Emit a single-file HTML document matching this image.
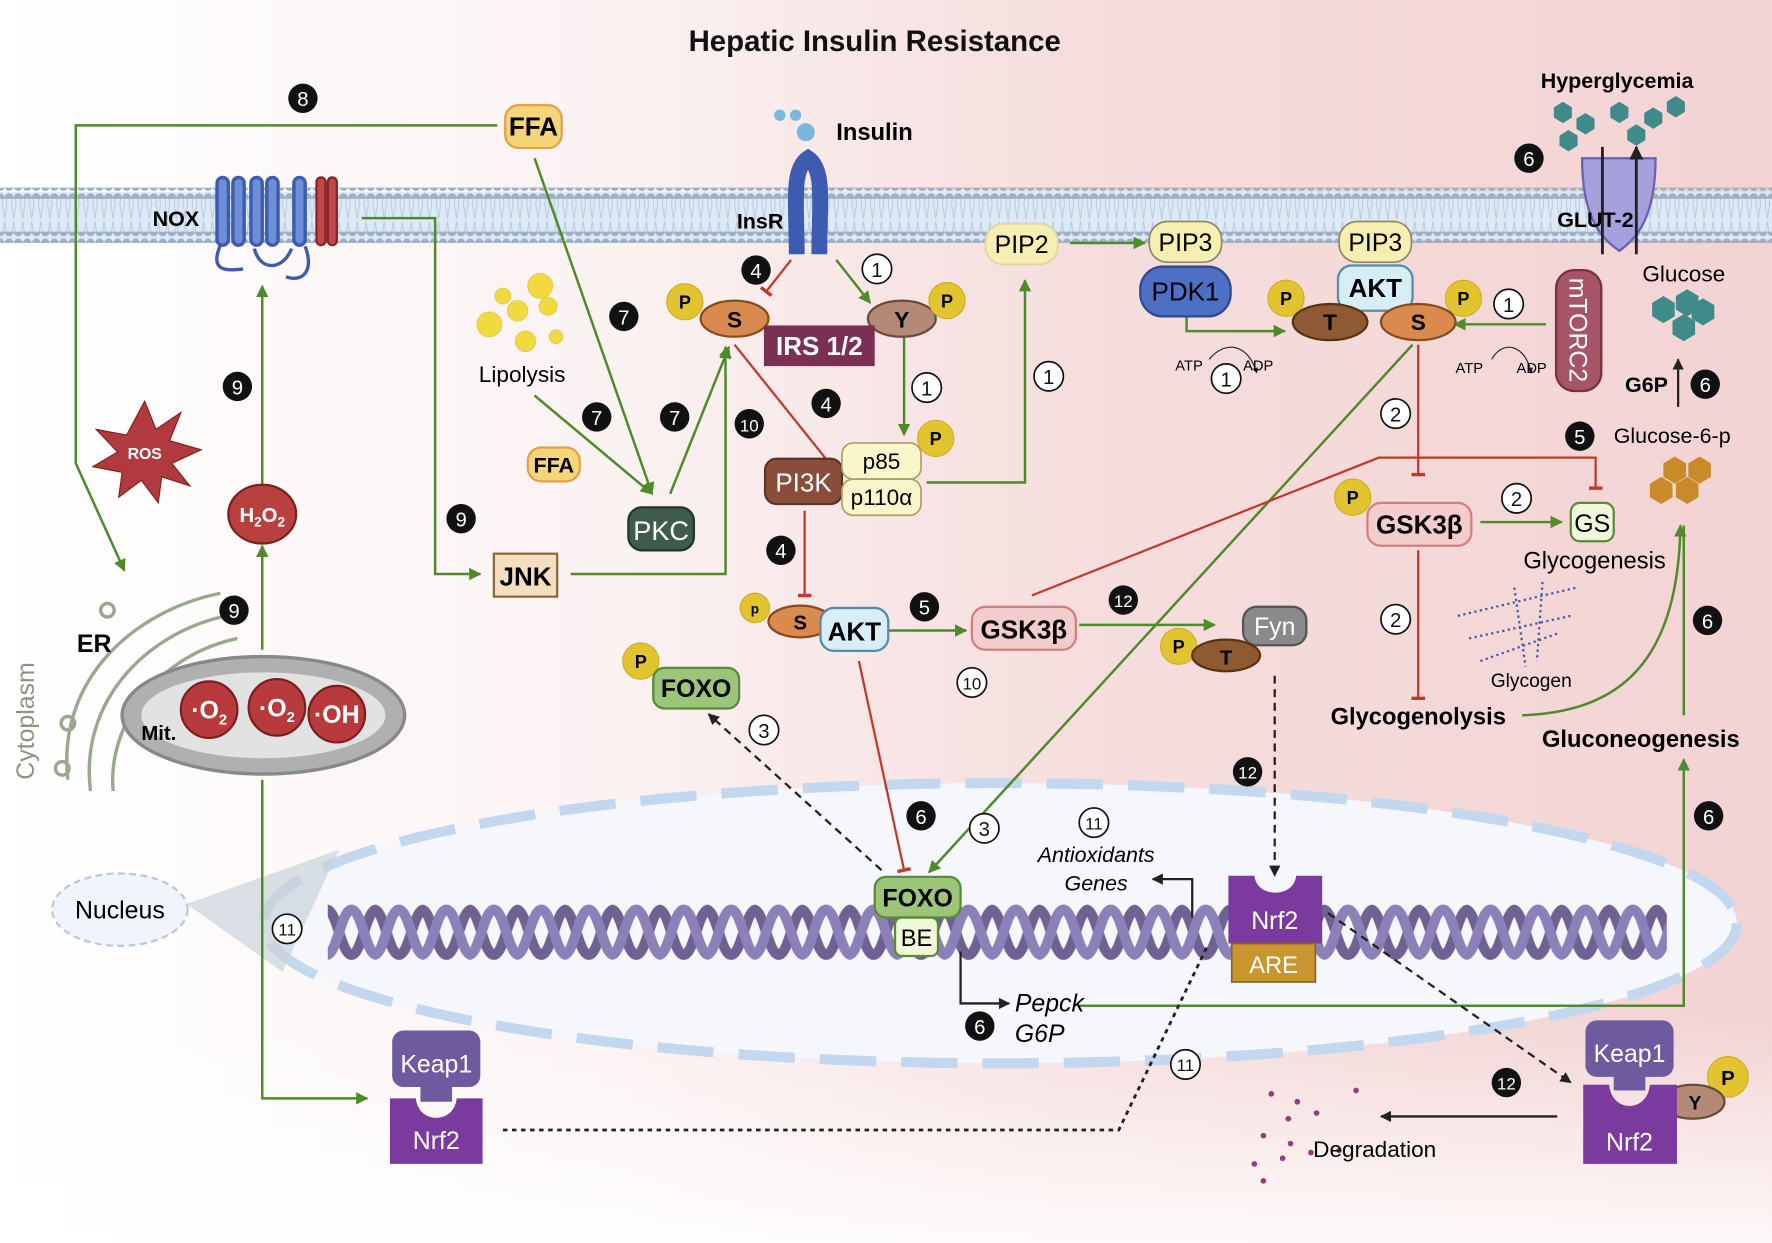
<!DOCTYPE html>
<html><head><meta charset="utf-8"><style>
html,body{margin:0;padding:0;}
svg{display:block;font-family:"Liberation Sans",sans-serif;}
</style></head><body>
<svg width="1772" height="1243" viewBox="0 0 1568 1100" xmlns="http://www.w3.org/2000/svg">
<defs>
<linearGradient id="bg" x1="0" y1="0" x2="1" y2="0">
<stop offset="0" stop-color="#ffffff"/><stop offset="0.35" stop-color="#fbf2f2"/><stop offset="0.6" stop-color="#f6dede"/><stop offset="1" stop-color="#f3d3d3"/>
</linearGradient>
<linearGradient id="fade" x1="0" y1="0" x2="0" y2="1">
<stop offset="0" stop-color="#fff" stop-opacity="0"/><stop offset="1" stop-color="#fff" stop-opacity="0.85"/>
</linearGradient>
<pattern id="heads" x="4" y="0" width="8" height="10" patternUnits="userSpaceOnUse">
<circle cx="4" cy="5" r="4" fill="#9fb0c5"/>
</pattern>
<pattern id="tails" x="0" y="0" width="8" height="30" patternUnits="userSpaceOnUse">
<path d="M2 0 L4 14 M6 0 L4 14 M2 30 L4 16 M6 30 L4 16" stroke="#b5c8dc" stroke-width="0.8" fill="none"/>
</pattern>
<pattern id="dna" x="290" y="795" width="42" height="60" patternUnits="userSpaceOnUse">
<path d="M-1 10 C8 10 12 50 21 50 C30 50 34 10 43 10" fill="none" stroke="#6f6191" stroke-width="9"/>
<path d="M-1 50 C8 50 12 10 21 10 C30 10 34 50 43 50" fill="none" stroke="#8c80b8" stroke-width="9"/>
</pattern>
<marker id="ag" viewBox="0 0 10 10" refX="9" refY="5" markerWidth="5" markerHeight="5" orient="auto"><path d="M0 0L10 5L0 10z" fill="#4f8a2b"/></marker>
<marker id="ak" viewBox="0 0 10 10" refX="9" refY="5" markerWidth="5" markerHeight="5" orient="auto"><path d="M0 0L10 5L0 10z" fill="#222"/></marker>
<marker id="tr" viewBox="0 0 10 10" refX="5" refY="5" markerWidth="6" markerHeight="6" orient="auto"><path d="M5 0V10" stroke="#c0392b" stroke-width="2.5"/></marker>
</defs>
<rect width="1568" height="1100" fill="url(#bg)"/>
<rect y="900" width="1568" height="200" fill="url(#fade)"/>

<!-- membrane -->
<rect x="0" y="170" width="1568" height="42" fill="#dde9f5"/>
<rect x="0" y="176" width="1568" height="30" fill="url(#tails)"/>
<rect x="0" y="166" width="1568" height="10" fill="url(#heads)"/>
<rect x="0" y="205" width="1568" height="10" fill="url(#heads)"/>

<text x="774" y="45" font-size="26" font-weight="bold" text-anchor="middle" fill="#111">Hepatic Insulin Resistance</text>

<!-- nucleus -->
<ellipse cx="885" cy="817" rx="652" ry="124" fill="#f5f7fd" stroke="#c3d8ef" stroke-width="9" stroke-dasharray="50 22"/>
<path d="M165 800 L300 752 L250 860 Z" fill="#c9d3da" opacity="0.7"/>
<ellipse cx="106" cy="805" rx="60" ry="32" fill="#f2f4fc" stroke="#b9c8e0" stroke-width="2" stroke-dasharray="6 4"/>
<text x="106" y="813" font-size="22" text-anchor="middle">Nucleus</text>
<rect x="290" y="795" width="1185" height="60" fill="url(#dna)"/>

<!-- connectors green -->
<g fill="none" stroke="#4f8a2b" stroke-width="2.2">
<path d="M440 111 H67 V410 L110 505" marker-end="url(#ag)"/>
<path d="M473 140 L577 437" marker-end="url(#ag)"/>
<path d="M473 350 L577 437" marker-end="url(#ag)"/>
<path d="M593 437 L645 307" marker-end="url(#ag)"/>
<path d="M320 193 H385 V508 H425" marker-end="url(#ag)"/>
<path d="M505 508 H642 V307" marker-end="url(#ag)"/>
<path d="M232 440 V253" marker-end="url(#ag)"/>
<path d="M232 575 V483" marker-end="url(#ag)"/>
<path d="M232 690 V972 H325" marker-end="url(#ag)"/>
<path d="M740 230 L770 268" marker-end="url(#ag)"/>
<path d="M800 296 V385" marker-end="url(#ag)"/>
<path d="M820 427 H907 V248" marker-end="url(#ag)"/>
<path d="M947 215 H1013" marker-end="url(#ag)"/>
<path d="M1050 280 V293 H1137" marker-end="url(#ag)"/>
<path d="M1368 287 H1287" marker-end="url(#ag)"/>
<path d="M1250 305 L822 772" marker-end="url(#ag)"/>
<path d="M786 558 H855" marker-end="url(#ag)"/>
<path d="M955 553 H1075" marker-end="url(#ag)"/>
<path d="M1310 462 H1382" marker-end="url(#ag)"/>
<path d="M1347 633 C1420 630 1485 600 1487 465" marker-end="url(#ag)"/>
<path d="M955 890 H1490 V672" marker-end="url(#ag)"/>
<path d="M1490 633 V465"/>
</g>
<!-- red inhibition -->
<g fill="none" stroke="#c0392b" stroke-width="2">
<path d="M700 230 L678 258" marker-end="url(#tr)"/>
<path d="M650 305 L738 415" marker-end="url(#tr)"/>
<path d="M712 452 V527" marker-end="url(#tr)"/>
<path d="M760 585 L800 770" marker-end="url(#tr)"/>
<path d="M1255 305 V420" marker-end="url(#tr)"/>
<path d="M1255 487 V618" marker-end="url(#tr)"/>
<path d="M913 527 L1220 405 H1412 V432" marker-end="url(#tr)"/>
</g>
<!-- black / dashed -->
<g fill="none" stroke="#222" stroke-width="2">
<path d="M780 770 L627 632" stroke-dasharray="7 5" marker-end="url(#ak)"/>
<path d="M1128 598 V775" stroke-dasharray="7 5" marker-end="url(#ak)"/>
<path d="M1175 808 L1390 958" stroke-dasharray="7 5" marker-end="url(#ak)"/>
<path d="M445 1000 H990 L1068 838" stroke-dasharray="4 4" stroke-width="2.5"/>
<path d="M850 842 V888 H893" marker-end="url(#ak)"/>
<path d="M1055 812 V778 H1020" marker-end="url(#ak)"/>
<path d="M1378 988 H1222" marker-end="url(#ak)"/>
<path d="M1485 360 V318" marker-end="url(#ak)"/>
<path d="M1070 318 C1085 300 1105 305 1112 330" stroke-width="1" marker-end="url(#ak)"/>
<path d="M1320 318 C1330 300 1350 305 1355 330" stroke-width="1" marker-end="url(#ak)"/>
</g>

<!-- NOX -->
<g fill="none" stroke="#3d5bb0" stroke-width="3">
<rect x="192" y="157" width="10" height="60" rx="5" fill="#6f8ed8"/><rect x="206" y="157" width="10" height="60" rx="5" fill="#6f8ed8"/>
<rect x="222" y="157" width="10" height="60" rx="5" fill="#6f8ed8"/><rect x="236" y="157" width="10" height="60" rx="5" fill="#6f8ed8"/>
<rect x="260" y="157" width="10" height="60" rx="5" fill="#6f8ed8"/>
<path d="M195 217 C185 240 200 240 215 238 M225 220 C230 240 250 240 258 220 M270 218 C278 240 268 250 253 245"/>
</g>
<g fill="#c0474a" stroke="#8b2323" stroke-width="2"><rect x="280" y="157" width="8" height="60" rx="4"/><rect x="290" y="157" width="8" height="60" rx="4"/></g>
<text x="135" y="200" font-size="19" font-weight="bold">NOX</text>

<!-- ROS, H2O2 -->
<polygon points="128,355 138,380 160,365 150,390 178,398 152,410 168,430 143,422 140,445 125,425 105,440 108,418 82,413 104,400 85,380 112,385" fill="#b03a3e" stroke="#7a2020"/>
<text x="128" y="406" font-size="14" font-weight="bold" fill="#fff" text-anchor="middle">ROS</text>
<ellipse cx="232" cy="455" rx="30" ry="26" fill="#b8403f" stroke="#7a2020" stroke-width="2"/>
<text x="232" y="462" font-size="18" font-weight="bold" fill="#fff" text-anchor="middle">H<tspan font-size="12" dy="4">2</tspan><tspan dy="-4">O</tspan><tspan font-size="12" dy="4">2</tspan></text>

<!-- ER & mitochondria -->
<g fill="none" stroke="#9aa88e" stroke-width="3">
<path d="M60 690 C50 600 120 540 195 525"/><path d="M80 700 C70 620 130 560 200 545"/><path d="M100 700 C95 640 140 580 210 565"/>
<circle cx="95" cy="540" r="6"/><circle cx="60" cy="640" r="6"/><circle cx="55" cy="680" r="6"/>
</g>
<text x="68" y="577" font-size="22" font-weight="bold">ER</text>
<text x="30" y="690" font-size="22" fill="#8a9580" transform="rotate(-90 30 690)">Cytoplasm</text>
<ellipse cx="233" cy="633" rx="125" ry="52" fill="#b0b0b0" stroke="#888" stroke-width="3"/>
<ellipse cx="233" cy="633" rx="108" ry="38" fill="#e2e2e2"/>
<text x="125" y="655" font-size="18" font-weight="bold">Mit.</text>
<g fill="#b83a3c" stroke="#7a2020" stroke-width="2"><circle cx="185" cy="628" r="25"/><circle cx="245" cy="626" r="25"/><circle cx="298" cy="632" r="25"/></g>
<g fill="#fff" font-size="22" font-weight="bold" text-anchor="middle"><text x="185" y="636">·O<tspan font-size="13" dy="5">2</tspan></text><text x="245" y="634">·O<tspan font-size="13" dy="5">2</tspan></text><text x="298" y="640">·OH</text></g>

<!-- FFA, lipolysis, PKC, JNK -->
<rect x="447" y="93" width="50" height="38" rx="12" fill="#f4d57a" stroke="#e2a24b" stroke-width="2"/>
<text x="472" y="120" font-size="23" font-weight="bold" text-anchor="middle">FFA</text>
<rect x="467" y="396" width="46" height="30" rx="12" fill="#f4d57a" stroke="#e2a24b" stroke-width="2"/>
<text x="490" y="418" font-size="19" font-weight="bold" text-anchor="middle">FFA</text>
<g fill="#f0da3e" stroke="#e6cd5a"><circle cx="433" cy="287" r="11"/><circle cx="458" cy="275" r="9"/><circle cx="478" cy="253" r="11"/><circle cx="485" cy="271" r="8"/><circle cx="465" cy="302" r="9"/><circle cx="492" cy="298" r="6"/><circle cx="445" cy="262" r="7"/></g>
<text x="462" y="338" font-size="20" text-anchor="middle">Lipolysis</text>
<rect x="556" y="449" width="58" height="38" rx="12" fill="#3e5c4a" stroke="#24362c" stroke-width="2"/>
<text x="585" y="478" font-size="24" fill="#fff" text-anchor="middle">PKC</text>
<rect x="437" y="490" width="56" height="38" fill="#f3dfc0" stroke="#8a6a3a" stroke-width="2"/>
<text x="465" y="518" font-size="23" font-weight="bold" text-anchor="middle">JNK</text>

<!-- Insulin receptor -->
<g fill="#7ab6de"><circle cx="690" cy="102" r="5"/><circle cx="704" cy="102" r="5"/><circle cx="713" cy="117" r="8"/></g>
<text x="740" y="124" font-size="21" font-weight="bold">Insulin</text>
<path d="M705 225 C705 180 700 150 715 140 C730 150 725 180 725 225" fill="none" stroke="#3d5bb0" stroke-width="14"/>
<text x="652" y="202" font-size="19" font-weight="bold">InsR</text>

<!-- IRS -->
<ellipse cx="650" cy="282" rx="30" ry="16" fill="#d98a4f" stroke="#8a4a1e" stroke-width="2"/><text x="650" y="290" font-size="20" font-weight="bold" text-anchor="middle">S</text>
<ellipse cx="798" cy="282" rx="30" ry="16" fill="#b48a76" stroke="#6a4a3a" stroke-width="2"/><text x="798" y="290" font-size="20" font-weight="bold" text-anchor="middle">Y</text>
<rect x="676" y="288" width="98" height="36" fill="#7a2f53"/>
<text x="725" y="314" font-size="23" font-weight="bold" fill="#fff" text-anchor="middle">IRS 1/2</text>

<!-- P circles -->
<g fill="#e2c431" stroke="#cfae1f"><circle cx="606" cy="267" r="16"/><circle cx="838" cy="266" r="16"/><circle cx="828" cy="388" r="16"/><circle cx="1138" cy="264" r="16"/><circle cx="1295" cy="264" r="16"/><circle cx="1197" cy="440" r="16"/><circle cx="567" cy="585" r="16"/><circle cx="1043" cy="572" r="16"/><circle cx="1529" cy="953" r="18"/><circle cx="668" cy="538" r="13"/></g>
<g font-size="16" font-weight="bold" text-anchor="middle"><text x="606" y="273">P</text><text x="838" y="272">P</text><text x="828" y="394">P</text><text x="1138" y="270">P</text><text x="1295" y="270">P</text><text x="1197" y="446">P</text><text x="567" y="591">P</text><text x="1043" y="578">P</text><text x="1529" y="960" font-size="18">P</text><text x="668" y="543" font-size="12">p</text></g>

<!-- PI3K -->
<rect x="677" y="406" width="68" height="40" rx="10" fill="#8a4d3c" stroke="#5e3226" stroke-width="2"/>
<text x="711" y="435" font-size="23" fill="#fff" text-anchor="middle">PI3K</text>
<rect x="745" y="392" width="70" height="32" rx="10" fill="#fbf5cc" stroke="#aaa16a" stroke-width="1.5"/><text x="780" y="415" font-size="20" text-anchor="middle">p85</text>
<rect x="745" y="424" width="70" height="32" rx="10" fill="#fbf5cc" stroke="#aaa16a" stroke-width="1.5"/><text x="780" y="447" font-size="20" text-anchor="middle">p110α</text>

<!-- AKT lower -->
<ellipse cx="708" cy="550" rx="28" ry="14" fill="#d98a4f" stroke="#8a4a1e" stroke-width="2"/><text x="708" y="557" font-size="18" font-weight="bold" text-anchor="middle">S</text>
<rect x="726" y="538" width="60" height="38" rx="12" fill="#d8eef7" stroke="#5a8aa6" stroke-width="2"/>
<text x="756" y="567" font-size="23" font-weight="bold" text-anchor="middle">AKT</text>
<rect x="860" y="537" width="92" height="38" rx="12" fill="#f3cccc" stroke="#d08080" stroke-width="2"/>
<text x="906" y="565" font-size="23" font-weight="bold" text-anchor="middle">GSK3β</text>
<rect x="1100" y="537" width="56" height="34" rx="12" fill="#8a8a8a" stroke="#555" stroke-width="2"/>
<text x="1128" y="562" font-size="22" fill="#fff" text-anchor="middle">Fyn</text>
<ellipse cx="1085" cy="580" rx="30" ry="14" fill="#8e5a34" stroke="#5a3410" stroke-width="2"/><text x="1085" y="588" font-size="18" font-weight="bold" text-anchor="middle">T</text>
<rect x="578" y="591" width="76" height="36" rx="10" fill="#9cc57a" stroke="#5a8a3a" stroke-width="2"/>
<text x="616" y="617" font-size="22" font-weight="bold" text-anchor="middle">FOXO</text>

<!-- PIP & AKT top -->
<rect x="872" y="198" width="64" height="36" rx="16" fill="#f6efb2" stroke="#dcd8a0" stroke-width="1.5"/><text x="904" y="224" font-size="22" text-anchor="middle">PIP2</text>
<rect x="1017" y="196" width="64" height="36" rx="16" fill="#f6efb2" stroke="#8a8a6a" stroke-width="1.5"/><text x="1049" y="222" font-size="22" text-anchor="middle">PIP3</text>
<rect x="1009" y="236" width="80" height="44" rx="20" fill="#4d6fc4" stroke="#2d4a8a" stroke-width="2"/><text x="1049" y="266" font-size="23" text-anchor="middle">PDK1</text>
<rect x="1185" y="196" width="64" height="36" rx="16" fill="#f6efb2" stroke="#8a8a6a" stroke-width="1.5"/><text x="1217" y="222" font-size="22" text-anchor="middle">PIP3</text>
<rect x="1184" y="235" width="66" height="40" rx="12" fill="#d8eef7" stroke="#5a8aa6" stroke-width="2"/><text x="1217" y="263" font-size="23" font-weight="bold" text-anchor="middle">AKT</text>
<ellipse cx="1177" cy="285" rx="33" ry="16" fill="#8e5a34" stroke="#5a3410" stroke-width="2"/><text x="1177" y="292" font-size="20" font-weight="bold" text-anchor="middle">T</text>
<ellipse cx="1255" cy="285" rx="33" ry="16" fill="#d98a4f" stroke="#8a4a1e" stroke-width="2"/><text x="1255" y="292" font-size="20" font-weight="bold" text-anchor="middle">S</text>
<g font-size="13"><text x="1040" y="328">ATP</text><text x="1100" y="328">ADP</text><text x="1288" y="330">ATP</text><text x="1342" y="330">ADP</text></g>
<rect x="1377" y="239" width="40" height="107" rx="16" fill="#a65468" stroke="#7a3040" stroke-width="2"/>
<text x="1397" y="292" font-size="22" fill="#fff" text-anchor="middle" transform="rotate(90 1397 292)" dy="8">mTORC2</text>

<!-- GSK3b right, GS -->
<rect x="1210" y="445" width="92" height="38" rx="12" fill="#f3cccc" stroke="#d08080" stroke-width="2"/>
<text x="1256" y="472" font-size="23" font-weight="bold" text-anchor="middle">GSK3β</text>
<rect x="1390" y="445" width="38" height="34" rx="8" fill="#eff8d8" stroke="#5a8a3a" stroke-width="2"/>
<text x="1409" y="471" font-size="22" text-anchor="middle">GS</text>
<text x="1411" y="503" font-size="21" text-anchor="middle">Glycogenesis</text>
<g stroke="#3d5bb0" stroke-width="2" stroke-dasharray="2 3" fill="none"><path d="M1290 545 L1395 520 M1300 565 L1390 545 M1310 585 L1380 560 M1340 520 L1350 590 M1365 515 L1360 585"/></g>
<text x="1355" y="608" font-size="17" text-anchor="middle">Glycogen</text>
<text x="1255" y="641" font-size="21" font-weight="bold" text-anchor="middle">Glycogenolysis</text>
<text x="1452" y="661" font-size="21" font-weight="bold" text-anchor="middle">Gluconeogenesis</text>

<!-- GLUT2 & glucose -->
<path d="M1400 140 H1465 C1465 190 1450 210 1433 222 C1415 210 1400 190 1400 140 Z" fill="#a6a0dc" stroke="#6a62b0" stroke-width="2"/>
<path d="M1418 225 V130 M1448 225 V130" stroke="#222" stroke-width="2.5" marker-end="url(#ak)" fill="none"/>
<text x="1431" y="78" font-size="19" font-weight="bold" text-anchor="middle">Hyperglycemia</text>
<g fill="#3f8a8a"><polygon points="1375,95 1383,90 1391,95 1391,104 1383,109 1375,104"/><polygon points="1395,105 1403,100 1411,105 1411,114 1403,119 1395,114"/><polygon points="1425,95 1433,90 1441,95 1441,104 1433,109 1425,104"/><polygon points="1455,100 1463,95 1471,100 1471,109 1463,114 1455,109"/><polygon points="1475,90 1483,85 1491,90 1491,99 1483,104 1475,99"/><polygon points="1440,115 1448,110 1456,115 1456,124 1448,129 1440,124"/><polygon points="1380,120 1388,115 1396,120 1396,129 1388,134 1380,129"/>
<polygon points="1462,268 1472,262 1482,268 1482,280 1472,286 1462,280"/><polygon points="1483,262 1493,256 1503,262 1503,274 1493,280 1483,274"/><polygon points="1480,284 1490,278 1500,284 1500,296 1490,302 1480,296"/><polygon points="1497,270 1507,264 1517,270 1517,282 1507,288 1497,282"/></g>
<text x="1378" y="201" font-size="19" font-weight="bold">GLUT-2</text>
<text x="1490" y="249" font-size="20" text-anchor="middle">Glucose</text>
<text x="1438" y="347" font-size="19" font-weight="bold">G6P</text>
<text x="1428" y="392" font-size="19">Glucose-6-p</text>
<g fill="#c98a2a"><polygon points="1472,410 1482,404 1492,410 1492,422 1482,428 1472,422"/><polygon points="1494,410 1504,404 1514,410 1514,422 1504,428 1494,422"/><polygon points="1460,428 1470,422 1480,428 1480,440 1470,446 1460,440"/><polygon points="1483,428 1493,422 1503,428 1503,440 1493,446 1483,440"/></g>

<!-- FOXO/BE nucleus, Nrf2 -->
<rect x="774" y="776" width="76" height="36" rx="10" fill="#9cc57a" stroke="#5a8a3a" stroke-width="2"/>
<text x="812" y="802" font-size="22" font-weight="bold" text-anchor="middle">FOXO</text>
<rect x="792" y="812" width="38" height="34" rx="6" fill="#eff8d8" stroke="#5a8a3a" stroke-width="2"/>
<text x="811" y="837" font-size="21" text-anchor="middle">BE</text>
<path d="M1087 775 H1110 C1112 795 1145 795 1147 775 H1170 V835 H1087 Z" fill="#7a3a9e"/>
<text x="1128" y="822" font-size="22" fill="#fff" text-anchor="middle">Nrf2</text>
<rect x="1090" y="835" width="74" height="34" fill="#c8962e" stroke="#8a6420" stroke-width="1.5"/>
<text x="1127" y="861" font-size="21" fill="#fff" text-anchor="middle">ARE</text>
<text x="970" y="763" font-size="19" font-style="italic" text-anchor="middle">Antioxidants</text>
<text x="970" y="788" font-size="19" font-style="italic" text-anchor="middle">Genes</text>
<text x="898" y="895" font-size="22" font-style="italic">Pepck</text>
<text x="898" y="922" font-size="22" font-style="italic">G6P</text>

<!-- Keap1/Nrf2 bottom -->
<rect x="347" y="912" width="78" height="50" rx="10" fill="#6e5a9e"/><rect x="372" y="955" width="28" height="20" fill="#6e5a9e"/>
<text x="386" y="949" font-size="22" fill="#fff" text-anchor="middle">Keap1</text>
<path d="M345 972 H368 C370 995 402 995 404 972 H427 V1030 H345 Z" fill="#7a3a9e"/>
<text x="386" y="1017" font-size="22" fill="#fff" text-anchor="middle">Nrf2</text>
<rect x="1403" y="903" width="78" height="50" rx="10" fill="#6e5a9e"/><rect x="1428" y="945" width="28" height="20" fill="#6e5a9e"/>
<text x="1442" y="940" font-size="22" fill="#fff" text-anchor="middle">Keap1</text>
<ellipse cx="1498" cy="975" rx="28" ry="15" fill="#b48a76" stroke="#6a4a3a" stroke-width="2"/><text x="1500" y="982" font-size="17" font-weight="bold" text-anchor="middle">Y</text>
<path d="M1401 960 H1424 C1426 985 1458 985 1460 960 H1484 V1030 H1401 Z" fill="#7a3a9e"/>
<text x="1442" y="1018" font-size="22" fill="#fff" text-anchor="middle">Nrf2</text>
<g fill="#9a3a7a"><circle cx="1125" cy="968" r="2.5"/><circle cx="1148" cy="975" r="2.5"/><circle cx="1140" cy="990" r="2.5"/><circle cx="1165" cy="985" r="2.5"/><circle cx="1118" cy="1005" r="2.5"/><circle cx="1142" cy="1012" r="2.5"/><circle cx="1160" cy="1020" r="2.5"/><circle cx="1185" cy="1018" r="2.5"/><circle cx="1200" cy="965" r="2.5"/><circle cx="1110" cy="1030" r="2.5"/><circle cx="1135" cy="1025" r="2.5"/><circle cx="1118" cy="1045" r="2.5"/></g>
<text x="1162" y="1024" font-size="20">Degradation</text>

<!-- numbered circles: black -->
<g fill="#111"><circle cx="268" cy="87" r="13"/><circle cx="552" cy="280" r="13"/><circle cx="528" cy="369" r="13"/><circle cx="597" cy="369" r="13"/><circle cx="210" cy="342" r="13"/><circle cx="408" cy="459" r="13"/><circle cx="207" cy="540" r="13"/><circle cx="669" cy="239" r="13"/><circle cx="731" cy="357" r="13"/><circle cx="663" cy="375" r="13"/><circle cx="691" cy="487" r="13"/><circle cx="818" cy="537" r="13"/><circle cx="994" cy="531" r="13"/><circle cx="1104" cy="683" r="13"/><circle cx="815" cy="722" r="13"/><circle cx="867" cy="908" r="13"/><circle cx="1333" cy="958" r="13"/><circle cx="1353" cy="140" r="13"/><circle cx="1509" cy="340" r="13"/><circle cx="1398" cy="386" r="13"/><circle cx="1511" cy="549" r="13"/><circle cx="1512" cy="722" r="13"/></g>
<g fill="#fff" font-size="18" text-anchor="middle"><text x="268" y="94">8</text><text x="552" y="287">7</text><text x="528" y="376">7</text><text x="597" y="376">7</text><text x="210" y="349">9</text><text x="408" y="466">9</text><text x="207" y="547">9</text><text x="669" y="246">4</text><text x="731" y="364">4</text><text x="663" y="382" font-size="15">10</text><text x="691" y="494">4</text><text x="818" y="544">5</text><text x="994" y="537" font-size="15">12</text><text x="1104" y="689" font-size="15">12</text><text x="815" y="729">6</text><text x="867" y="915">6</text><text x="1333" y="964" font-size="15">12</text><text x="1353" y="147">6</text><text x="1509" y="347">6</text><text x="1398" y="393">5</text><text x="1511" y="556">6</text><text x="1512" y="729">6</text></g>
<!-- white -->
<g fill="#fff" stroke="#111" stroke-width="1.5"><circle cx="776" cy="238" r="13"/><circle cx="820" cy="343" r="13"/><circle cx="928" cy="333" r="13"/><circle cx="1085" cy="335" r="13"/><circle cx="1335" cy="269" r="13"/><circle cx="1235" cy="366" r="13"/><circle cx="1342" cy="441" r="13"/><circle cx="1235" cy="548" r="13"/><circle cx="860" cy="604" r="13"/><circle cx="676" cy="646" r="13"/><circle cx="871" cy="733" r="13"/><circle cx="968" cy="728" r="13"/><circle cx="254" cy="822" r="13"/><circle cx="1049" cy="942" r="13"/></g>
<g fill="#111" font-size="18" text-anchor="middle"><text x="776" y="245">1</text><text x="820" y="350">1</text><text x="928" y="340">1</text><text x="1085" y="342">1</text><text x="1335" y="276">1</text><text x="1235" y="373">2</text><text x="1342" y="448">2</text><text x="1235" y="555">2</text><text x="860" y="610" font-size="15">10</text><text x="676" y="653">3</text><text x="871" y="740">3</text><text x="968" y="734" font-size="15">11</text><text x="254" y="828" font-size="15">11</text><text x="1049" y="948" font-size="15">11</text></g>
</svg>
</body></html>
